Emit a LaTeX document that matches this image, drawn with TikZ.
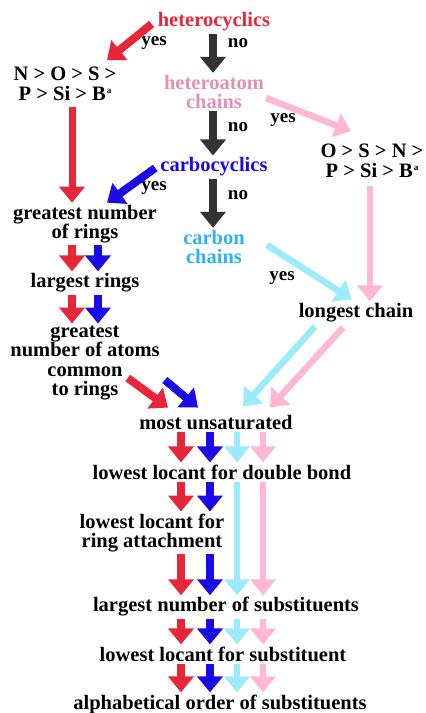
\documentclass[tikz,border=0pt]{standalone}
\usepackage{fontspec}
\setmainfont{Liberation Serif}
\usetikzlibrary{arrows.meta, calc}
\definecolor{RuleRed}{HTML}{E8263A}
\definecolor{RuleBlue}{HTML}{1A0AE6}
\definecolor{RuleDark}{HTML}{333333}
\definecolor{RulePinkText}{HTML}{E291B5}
\definecolor{RulePink}{HTML}{FFB8D4}
\definecolor{RuleSkyText}{HTML}{2DB4F0}
\definecolor{RuleSky}{HTML}{9BEBFA}
\newcommand{\supa}{\kern1pt\raisebox{7pt}{\fontsize{9}{9}\selectfont a}}

\begin{document}
\begin{tikzpicture}[
  x=1pt, y=-1pt,
  every node/.style={font=\fontsize{20.5}{19.5}\selectfont\bfseries, align=center, inner sep=2pt},
  lbl/.style={font=\fontsize{19}{19}\selectfont\bfseries, inner sep=0pt},
  arr/.style={line width=8pt, -{Triangle[length=16pt, width=25pt]}},
  longarr/.style={arr, line width=6.5pt},
  redarr/.style={arr, RuleRed},
  bluearr/.style={arr, RuleBlue},
  darkarr/.style={arr, RuleDark},
  pinkarr/.style={longarr, RulePink},
  skyarr/.style={longarr, RuleSky}
]
  \useasboundingbox (0,0) rectangle (426,713);

  % columns of the parallel arrows
  \coordinate (xRa) at (72,0);
  \coordinate (xBa) at (98,0);
  \coordinate (xK) at (213,0);
  \coordinate (xP) at (370,0);
  \coordinate (xR) at (181,0);
  \coordinate (xB) at (210,0);
  \coordinate (xS) at (237,0);
  \coordinate (xPk) at (263,0);

  % decision nodes
  \node[RuleRed] (het) at (214,22) {heterocyclics};
  \node[RulePinkText] (hac) at (214,92) {heteroatom\\chains};
  \node[RuleBlue] (carbo) at (214,167) {carbocyclics};
  \node[RuleSkyText] (cc) at (214,247) {carbon\\chains};

  % seniority orders
  \node (nos) at (65,84) {N > O > S >\\P > Si > B\supa};
  \node (osn) at (372,161) {O > S > N >\\P > Si > B\supa};

  % rings side
  \node (gnr) at (85,224) {greatest number\\of rings};
  \node (lr) at (85,283) {largest rings};
  \node (gna) at (85,363) {greatest\\number of atoms\\common\\to rings};

  % chains side
  \node (lc) at (356,313) {longest chain};

  % common criteria
  \node (mu) at (216,423) {most unsaturated};
  \node (ldb) at (222,472) {lowest locant for double bond};
  \node (lra) at (152,533) {lowest locant for\\ring attachment};
  \node (lns) at (226,607) {largest number of substituents};
  \node (lls) at (223,654) {lowest locant for substituent};
  \node (aos) at (220,704) {alphabetical order of substituents};

  % yes / no labels
  \node[lbl] (yes1) at (154,43) {yes};
  \node[lbl] (no1) at (238,43) {no};
  \node[lbl] (no2) at (238,127) {no};
  \node[lbl] (yes2) at (283,120) {yes};
  \node[lbl] (yes3) at (154,188) {yes};
  \node[lbl] (no3) at (238,195) {no};
  \node[lbl] (yes4) at (282,278) {yes};

  % upper arrows
  \draw[redarr] ([xshift=-4pt, yshift=-2pt]het.west) -- ([xshift=42pt, yshift=5pt]nos.north);
  \draw[darkarr] (het.south -| xK) -- (hac.north -| xK);
  \draw[darkarr] (hac.south -| xK) -- (carbo.north -| xK);
  \draw[pinkarr] ([yshift=-6pt]hac.east) -- ([xshift=-21pt, yshift=11pt]osn.north);
  \draw[bluearr] ([xshift=-3pt, yshift=-1pt]carbo.west) -- ([xshift=22pt]gnr.north);
  \draw[redarr, line width=7pt, shorten <=4pt] (nos.south -| xRa) -- (gnr.north -| xRa);
  \draw[darkarr] (carbo.south -| xK) -- (cc.north -| xK);
  \draw[skyarr] ([xshift=20pt, yshift=2pt]cc.east) -- ([xshift=-4pt, yshift=2pt]lc.north);
  \draw[pinkarr, shorten <=6pt] (osn.south -| xP) -- (lc.north -| xP);

  % ring criteria
  \foreach \col/\sty in {xRa/redarr, xBa/bluearr} {
    \draw[\sty] (gnr.south -| \col) -- (lr.north -| \col);
    \draw[\sty] (lr.south -| \col) -- (gna.north -| \col);
  }

  % into most unsaturated
  \draw[redarr] ([xshift=-34pt, yshift=-15pt]gna.east) -- ([xshift=-48pt, yshift=6pt]mu.north);
  \draw[bluearr] ([xshift=3pt, yshift=-17pt]gna.east) -- ([xshift=-18pt, yshift=6pt]mu.north);
  \draw[skyarr] ([xshift=-41pt, yshift=-2pt]lc.south) -- ([xshift=27pt, yshift=7pt]mu.north);
  \draw[pinkarr] ([xshift=-13pt, yshift=-3pt]lc.south) -- ([xshift=54pt, yshift=6pt]mu.north);

  % lower criteria
  \foreach \col/\sty in {xR/redarr, xB/bluearr, xS/skyarr, xPk/pinkarr} {
    \draw[\sty] (mu.south -| \col) -- (ldb.north -| \col);
    \draw[\sty] (lns.south -| \col) -- (lls.north -| \col);
    \draw[\sty] (lls.south -| \col) -- (aos.north -| \col);
  }
  \foreach \col/\sty in {xR/redarr, xB/bluearr} {
    \draw[\sty] (ldb.south -| \col) -- (lra.north -| \col);
    \draw[\sty] (lra.south -| \col) -- (lns.north -| \col);
  }
  \foreach \col/\sty in {xS/skyarr, xPk/pinkarr}
    \draw[\sty] (ldb.south -| \col) -- (lns.north -| \col);
\end{tikzpicture}
\end{document}
